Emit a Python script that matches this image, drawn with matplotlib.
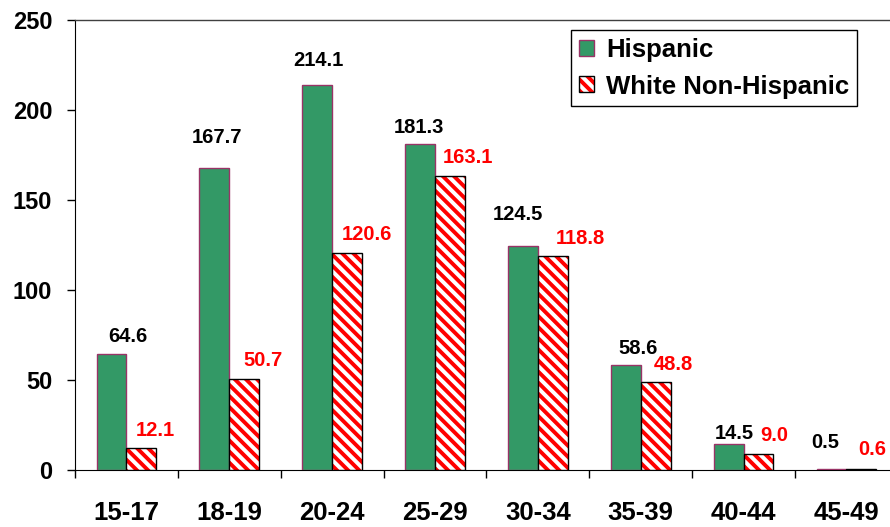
import matplotlib
matplotlib.use("Agg")
import matplotlib.pyplot as plt
from matplotlib.patches import Patch
from matplotlib.legend_handler import HandlerTuple
import numpy as np

plt.rcParams['font.family'] = ['Liberation Sans', 'DejaVu Sans']
plt.rcParams['font.weight'] = 'bold'
plt.rcParams['hatch.linewidth'] = 2.8

categories = ['15-17', '18-19', '20-24', '25-29', '30-34', '35-39', '40-44', '45-49']
hispanic = [64.6, 167.7, 214.1, 181.3, 124.5, 58.6, 14.5, 0.5]
white_nh = [12.1, 50.7, 120.6, 163.1, 118.8, 48.8, 9.0, 0.6]
series_names = ['Hispanic', 'White Non-Hispanic']
yticks = [0, 50, 100, 150, 200, 250]

# label offsets (pixels: dx right, dy up from bar top)
hisp_label_off = [(16.5, 17.7), (2.6, 31), (0.8, 24.6), (-1, 15.7), (-5, 31), (12, 16.5), (6, 10), (-6.5, 27)]
white_label_off = [(13.6, 18), (19, 18.7), (20, 18), (18, 19.4), (28, 18), (17.4, 18), (15.5, 18), (10.7, 19)]

W, H = 890, 527
fig = plt.figure(figsize=(W / 100, H / 100), dpi=100)
ax = fig.add_axes([75 / W, 1 - 470 / H, 1 - 75 / W, 450 / H])

green = '#339966'
purple = '#993366'
red = '#FF0000'
hatch = '\\\\\\'
bw = 0.29
x = np.arange(len(categories))

hb = ax.bar(x - bw / 2, hispanic, bw, color=green, edgecolor=purple, linewidth=1.0, zorder=3)
wb = ax.bar(x + bw / 2, white_nh, bw, color='white', edgecolor=red, hatch=hatch,
            linewidth=0, zorder=3)
wo = ax.bar(x + bw / 2, white_nh, bw, fill=False, edgecolor='black', linewidth=1.0, zorder=4)

px2pt = 0.72
for xi, v, (dx, dy) in zip(x - bw / 2, hispanic, hisp_label_off):
    ax.annotate(f'{v:.1f}', (xi, v), xytext=(dx * px2pt, dy * px2pt), textcoords='offset points',
                ha='center', va='center', fontsize=14.5, fontweight='bold', color='black',
                zorder=6, annotation_clip=False)
for xi, v, (dx, dy) in zip(x + bw / 2, white_nh, white_label_off):
    ax.annotate(f'{v:.1f}', (xi, v), xytext=(dx * px2pt, dy * px2pt), textcoords='offset points',
                ha='center', va='center', fontsize=14.5, fontweight='bold', color=red,
                zorder=6, annotation_clip=False)

ax.set_xlim(-0.5, -0.5 + (W - 75) / 102.86)
ax.set_ylim(0, 250)
ax.set_yticks(yticks)
ax.set_yticklabels([str(t) for t in yticks], fontsize=17, fontweight='bold')
ax.tick_params(axis='y', direction='out', length=5.8, width=1, pad=10.5, colors='black')

ax.set_xticks(x)
ax.set_xticklabels(categories, fontsize=18.5, fontweight='bold')
ax.tick_params(axis='x', which='major', length=0, pad=22)
ax.set_xticks(np.arange(-0.5, len(categories) - 0.5, 1.0), minor=True)
ax.tick_params(axis='x', which='minor', direction='out', length=5.8, width=1)

ax.spines['right'].set_visible(False)
ax.spines['top'].set_color('#404040')
ax.spines['top'].set_linewidth(1)
ax.spines['left'].set_color('black')
ax.spines['bottom'].set_color('black')

h1 = Patch(facecolor=green, edgecolor=purple, linewidth=1.0)
h2a = Patch(facecolor='white', edgecolor=red, hatch=hatch, linewidth=0)
h2b = Patch(fill=False, edgecolor='black', linewidth=1.0)
leg = ax.legend([h1, (h2a, h2b)], series_names, handler_map={tuple: HandlerTuple(ndivide=1, pad=0)},
                loc='upper right', bbox_to_anchor=(857 / W, 1 - 30 / H), bbox_transform=fig.transFigure,
                prop={'size': 18.5, 'weight': 'bold'}, frameon=True, fancybox=False, framealpha=1,
                edgecolor='black', handlelength=0.58, handleheight=0.58, handletextpad=0.47,
                borderpad=0.3, labelspacing=0.5, borderaxespad=0)
leg.get_frame().set_linewidth(1.0)
leg.set_zorder(10)

fig.savefig('out.png', dpi=100)
